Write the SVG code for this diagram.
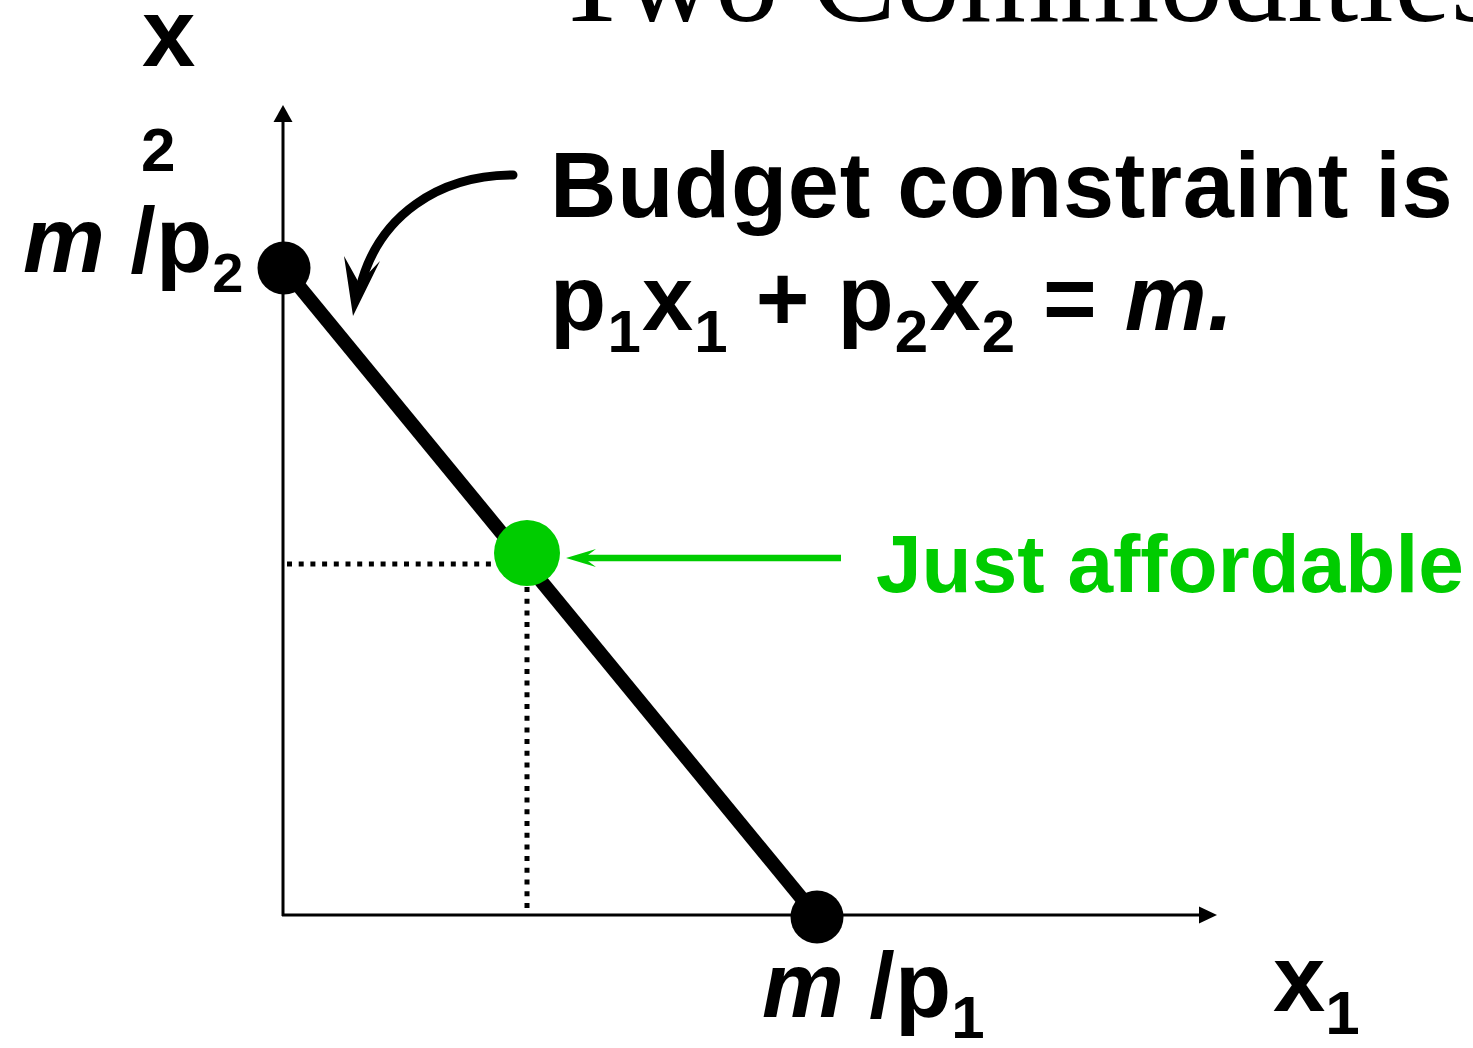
<svg xmlns="http://www.w3.org/2000/svg" width="1473" height="1048" viewBox="0 0 1473 1048">
  <style>
    .lbl { font-family: "Liberation Sans", Arial, sans-serif; font-weight: bold; fill: #000; }
    .it { font-style: italic; }
    .title { font-family: "Liberation Serif", "Times New Roman", serif; fill: #000; }
    .axis { stroke: #000; stroke-width: 3; fill: none; }
    .dot { stroke: #000; stroke-width: 5; stroke-dasharray: 5 6.7; fill: none; }
    .green { fill: #00CC00; }
  </style>
  <rect width="1473" height="1048" fill="#fff"/>
  <text class="title" x="553" y="21" font-size="128">Two Commodities</text>

  <g id="connectors">
    <g id="y-axis">
      <line class="axis" x1="283" y1="916" x2="283" y2="118"/>
      <polygon points="283,105 273.5,122 292.5,122" fill="#000"/>
    </g>
    <g id="x-axis">
      <line class="axis" x1="282" y1="915" x2="1203" y2="915"/>
      <polygon points="1217,915 1199,906.5 1199,923.5" fill="#000"/>
    </g>
    <line id="budget-line" x1="284" y1="268" x2="817" y2="917" stroke="#000" stroke-width="14"/>
    <line class="dot" x1="287" y1="564" x2="495" y2="564"/>
    <line class="dot" x1="527" y1="587" x2="527" y2="912"/>
    <g id="curved-arrow">
      <path d="M513,175 C440,175 378,215 360,288" stroke="#000" stroke-width="9" stroke-linecap="round" fill="none"/>
      <polygon points="353,316 344,256 359,283 380,261" fill="#000"/>
    </g>
    <g id="green-arrow">
      <line x1="841" y1="558" x2="580" y2="558" stroke="#00CC00" stroke-width="6.5"/>
      <polygon points="566,558 596,549 584,558 596,567" fill="#00CC00"/>
    </g>
  </g>

  <g id="node-intercept-y">
    <circle cx="284" cy="268" r="26.5" fill="#000"/>
  </g>
  <g id="node-intercept-x">
    <circle cx="817" cy="917" r="26.5" fill="#000"/>
  </g>
  <g id="node-just-affordable">
    <circle class="green" cx="527" cy="553" r="33"/>
  </g>

  <g id="label-x2">
    <text class="lbl" x="142" y="66" font-size="96">x</text>
    <text class="lbl" x="141" y="171" font-size="62">2</text>
  </g>
  <g id="label-m-p2">
    <text class="lbl" x="23" y="272" font-size="92"><tspan class="it">m</tspan> /p<tspan font-size="56" dy="20">2</tspan></text>
  </g>
  <g id="label-m-p1">
    <text class="lbl" x="762" y="1017" font-size="92"><tspan class="it">m</tspan> /p<tspan font-size="60" dy="21">1</tspan></text>
  </g>
  <g id="label-x1">
    <text class="lbl" x="1273" y="1011" font-size="94">x<tspan font-size="62" dy="23">1</tspan></text>
  </g>
  <g id="label-budget">
    <text class="lbl" x="550" y="217" font-size="92" letter-spacing="0.7">Budget constraint is</text>
    <text class="lbl" x="550" y="330" font-size="92" letter-spacing="1.2">p<tspan font-size="60" dy="22">1</tspan><tspan dy="-22">x</tspan><tspan font-size="60" dy="22">1</tspan><tspan dy="-22"> + p</tspan><tspan font-size="60" dy="22">2</tspan><tspan dy="-22">x</tspan><tspan font-size="60" dy="22">2</tspan><tspan dy="-22"> = </tspan><tspan class="it">m.</tspan></text>
  </g>
  <g id="label-just-affordable">
    <text class="lbl green" x="876" y="592" font-size="82">Just affordable</text>
  </g>
</svg>
